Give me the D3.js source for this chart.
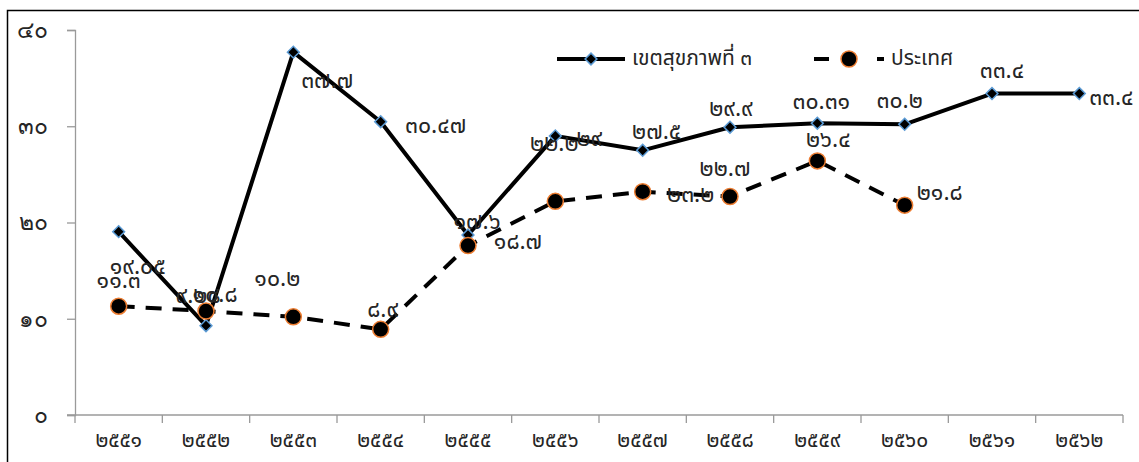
<!DOCTYPE html>
<html>
<head>
<meta charset="utf-8">
<script src="https://cdn.jsdelivr.net/npm/d3@7"></script>
<style>
  html, body { margin: 0; padding: 0; background: #fff; overflow: hidden; }
  svg { display: block; font-family: "Noto Sans Thai", "Noto Sans", "DejaVu Sans", sans-serif; }
</style>
</head>
<body>
<svg id="chart" width="1139" height="462"></svg>
<script>
// Years (Buddhist Era) on the category axis
const years = ["๒๕๕๑", "๒๕๕๒", "๒๕๕๓", "๒๕๕๔", "๒๕๕๕", "๒๕๕๖", "๒๕๕๗", "๒๕๕๘", "๒๕๕๙", "๒๕๖๐", "๒๕๖๑", "๒๕๖๒"];
// Health region 3
const regionValues = [19.05, 9.28, 37.7, 30.47, 18.7, 29, 27.5, 29.9, 30.31, 30.2, 33.4, 33.4];
// Whole country
const countryValues = [11.3, 10.8, 10.2, 8.9, 17.6, 22.2, 23.2, 22.7, 26.4, 21.8, null, null];
const yTicks = [0, 10, 20, 30, 40];
const seriesNames = ["เขตสุขภาพที่ ๓", "ประเทศ"];

// Data-label placement (offset from each marker, in px)
const regionLabelOffsets = [[19,36],[-8,-29],[34,29],[55,5],[50,8],[34,4],[14,-18],[1,-18],[4,-21],[-5,-23],[10,-22],[32,5]];
const countryLabelOffsets = [[0,-25],[9,-15],[-16,-37],[2,-19],[9,-23],[-1,-57],[48,4],[-5,-27],[11,-20],[35,-12],[0,0],[0,0]];

const thaiDigits = "๐๑๒๓๔๕๖๗๘๙";
const toThai = s => String(s).replace(/[0-9]/g, d => thaiDigits[+d]);

const svg = d3.select("#chart");
const textColor = "#262626";
const fontSize = 23;

// outer frame
svg.append("rect")
  .attr("x", 7.5).attr("y", 10.5)
  .attr("width", 1160).attr("height", 480)
  .attr("fill", "none").attr("stroke", "#000").attr("stroke-width", 1.5);

const x = d3.scaleBand().domain(years).range([75, 1123]);
const y = d3.scaleLinear().domain([0, 40]).range([415, 30]);
const cx = i => x(years[i]) + x.bandwidth() / 2;

const axisColor = "#9a9a9a";

// y axis
const yAxis = svg.append("g").attr("transform", "translate(75,0)")
  .call(d3.axisLeft(y).tickValues(yTicks).tickSize(8).tickPadding(19).tickFormat(toThai));
yAxis.select(".domain").attr("stroke", axisColor).attr("stroke-width", 1.3);
yAxis.selectAll(".tick line").attr("stroke", axisColor).attr("stroke-width", 1.3);
yAxis.selectAll("text").attr("font-size", fontSize).attr("fill", textColor).attr("font-family", null);

// x axis (ticks on category boundaries)
const xg = svg.append("g").attr("transform", "translate(0,415)");
xg.append("line").attr("x1", 67).attr("x2", 1123).attr("y1", 0).attr("y2", 0)
  .attr("stroke", axisColor).attr("stroke-width", 1.3);
const boundaries = years.map(d => x(d)).concat([x.range()[1]]);
xg.selectAll("line.tk").data(boundaries).join("line").attr("class", "tk")
  .attr("x1", d => d).attr("x2", d => d).attr("y1", 0).attr("y2", 8)
  .attr("stroke", axisColor).attr("stroke-width", 1.3);
xg.selectAll("text").data(years).join("text")
  .attr("x", (d, i) => cx(i)).attr("y", 26)
  .attr("text-anchor", "middle").attr("dominant-baseline", "middle")
  .attr("font-size", 21).attr("fill", textColor)
  .text(d => d);

// lines
const regionPts = regionValues.map((v, i) => ({ i, v })).filter(d => d.v != null);
const countryPts = countryValues.map((v, i) => ({ i, v })).filter(d => d.v != null);
const line = d3.line().x(d => cx(d.i)).y(d => y(d.v));

svg.append("path").datum(countryPts).attr("d", line)
  .attr("fill", "none").attr("stroke", "#000").attr("stroke-width", 4)
  .attr("stroke-dasharray", "16,11");
svg.append("path").datum(regionPts).attr("d", line)
  .attr("fill", "none").attr("stroke", "#000").attr("stroke-width", 4)
  .attr("stroke-linejoin", "round");

// markers
const diamond = d3.symbol().type(d3.symbolSquare).size(70)();
svg.selectAll("path.dm").data(regionPts).join("path").attr("class", "dm")
  .attr("d", diamond)
  .attr("transform", d => `translate(${cx(d.i)},${y(d.v)}) rotate(45)`)
  .attr("fill", "#000").attr("stroke", "#5b9bd5").attr("stroke-width", 1.5);
svg.selectAll("circle.ct").data(countryPts).join("circle").attr("class", "ct")
  .attr("cx", d => cx(d.i)).attr("cy", d => y(d.v)).attr("r", 8)
  .attr("fill", "#000").attr("stroke", "#ed7d31").attr("stroke-width", 1.5);

// data labels
const labelStyle = sel => sel.attr("text-anchor", "middle").attr("dominant-baseline", "middle")
  .attr("font-size", fontSize).attr("fill", textColor);
svg.selectAll("text.rl").data(regionPts).join("text").attr("class", "rl")
  .attr("x", d => cx(d.i) + regionLabelOffsets[d.i][0])
  .attr("y", d => y(d.v) + regionLabelOffsets[d.i][1])
  .call(labelStyle).text(d => toThai(d.v));
svg.selectAll("text.cl").data(countryPts).join("text").attr("class", "cl")
  .attr("x", d => cx(d.i) + countryLabelOffsets[d.i][0])
  .attr("y", d => y(d.v) + countryLabelOffsets[d.i][1])
  .call(labelStyle).text(d => toThai(d.v));

// legend
const lg = svg.append("g").attr("transform", "translate(0,59)");
lg.append("line").attr("x1", 557).attr("x2", 625).attr("y1", 0).attr("y2", 0)
  .attr("stroke", "#000").attr("stroke-width", 4);
lg.append("path").attr("d", diamond).attr("transform", "translate(591,0) rotate(45)")
  .attr("fill", "#000").attr("stroke", "#5b9bd5").attr("stroke-width", 1.5);
lg.append("text").attr("x", 632).attr("y", 0).attr("dominant-baseline", "middle")
  .attr("font-size", 21).attr("fill", textColor).text(seriesNames[0]);
lg.append("line").attr("x1", 814).attr("x2", 884).attr("y1", 0).attr("y2", 0)
  .attr("stroke", "#000").attr("stroke-width", 4).attr("stroke-dasharray", "15,48");
lg.append("circle").attr("cx", 849).attr("cy", 0).attr("r", 8)
  .attr("fill", "#000").attr("stroke", "#ed7d31").attr("stroke-width", 1.5);
lg.append("text").attr("x", 891).attr("y", 0).attr("dominant-baseline", "middle")
  .attr("font-size", 21).attr("fill", textColor).text(seriesNames[1]);
</script>
</body>
</html>
